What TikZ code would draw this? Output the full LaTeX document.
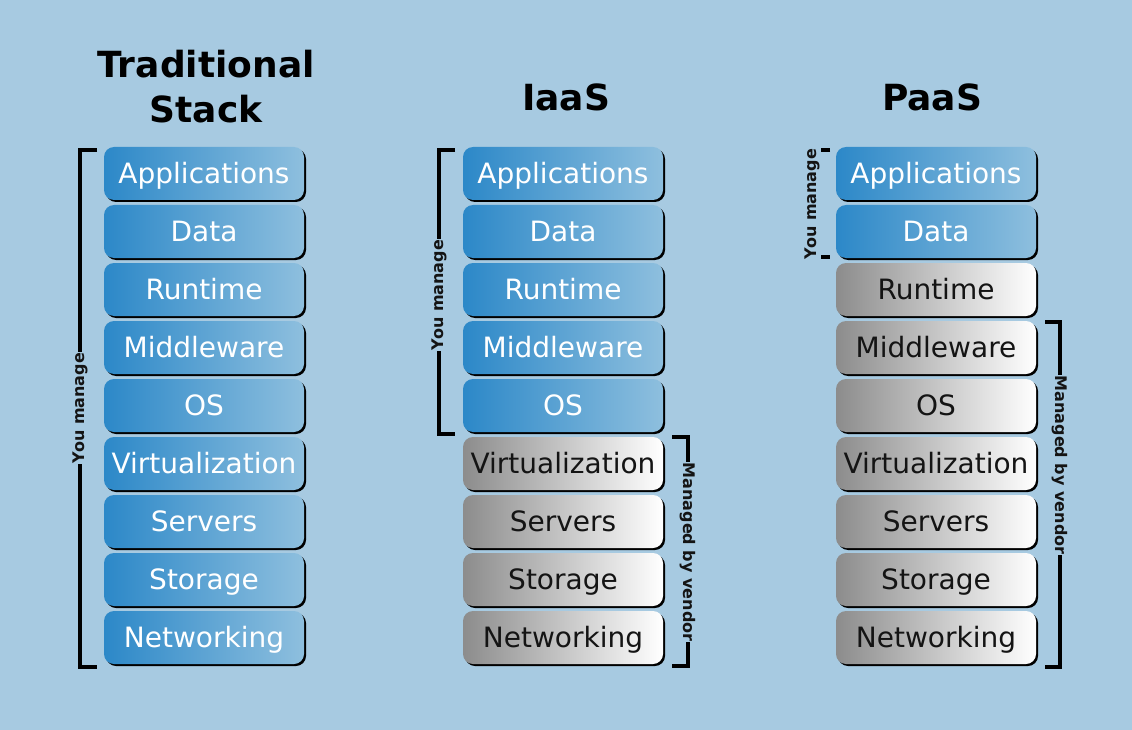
\documentclass[tikz,border=0pt]{standalone}
\usepackage{fontspec}
\setmainfont{DejaVu Sans}
\usetikzlibrary{shadows}
\definecolor{sky}{RGB}{167,202,225}
\definecolor{bluel}{RGB}{44,136,200}
\definecolor{bluer}{RGB}{142,191,222}
\definecolor{grayl}{RGB}{140,140,140}
\definecolor{ink}{RGB}{20,20,20}

\begin{document}
\begin{tikzpicture}[
      x = 1pt, y = -1pt,
      layer/.style = {
        rounded corners = 10pt, minimum width = 200pt, minimum height = 53pt,
        inner sep = 0pt, font = \fontsize{28}{32}\selectfont,
        text height = 20pt, text depth = 0pt,
        drop shadow = {shadow xshift = 2pt, shadow yshift = -2pt,
          fill = black, opacity = 1}},
      mine/.style = {layer, left color = bluel, right color = bluer, text = white},
      vendor/.style = {layer, left color = grayl, right color = white, text = ink},
      title/.style = {font = \fontsize{36}{45}\selectfont\bfseries, align = center},
      bracket/.style = {line width = 4pt, black},
      side/.style = {fill = sky, inner sep = 1pt, text = ink,
        font = \fontsize{16}{18}\selectfont\bfseries}
      ]
    \fill[sky] (0,0) rectangle (1132,730);
    \useasboundingbox (0,0) rectangle (1132,730);
    % titles
    \node[title] (tTitle) at (206,87) {Traditional\\Stack};
    \node[title] (iTitle) at (566,97) {IaaS};
    \node[title] (pTitle) at (932,97) {PaaS};
    % traditional stack
    \node[mine] (tApp) at (204,173.5) {Applications}; % 0
    \node[mine] (tData) at (204,231.5) {Data}; % 1
    \node[mine] (tRun) at (204,289.5) {Runtime}; % 2
    \node[mine] (tMid) at (204,347.5) {Middleware}; % 3
    \node[mine] (tOS) at (204,405.5) {OS}; % 4
    \node[mine] (tVirt) at (204,463.5) {Virtualization}; % 5
    \node[mine] (tServ) at (204,521.5) {Servers}; % 6
    \node[mine] (tStor) at (204,579.5) {Storage}; % 7
    \node[mine] (tNet) at (204,637.5) {Networking}; % 8
    % iaas
    \node[mine] (iApp) at (563,173.5) {Applications}; % 0
    \node[mine] (iData) at (563,231.5) {Data}; % 1
    \node[mine] (iRun) at (563,289.5) {Runtime}; % 2
    \node[mine] (iMid) at (563,347.5) {Middleware}; % 3
    \node[mine] (iOS) at (563,405.5) {OS}; % 4
    \node[vendor] (iVirt) at (563,463.5) {Virtualization}; % 5
    \node[vendor] (iServ) at (563,521.5) {Servers}; % 6
    \node[vendor] (iStor) at (563,579.5) {Storage}; % 7
    \node[vendor] (iNet) at (563,637.5) {Networking}; % 8
    % paas
    \node[mine] (pApp) at (936,173.5) {Applications}; % 0
    \node[mine] (pData) at (936,231.5) {Data}; % 1
    \node[vendor] (pRun) at (936,289.5) {Runtime}; % 2
    \node[vendor] (pMid) at (936,347.5) {Middleware}; % 3
    \node[vendor] (pOS) at (936,405.5) {OS}; % 4
    \node[vendor] (pVirt) at (936,463.5) {Virtualization}; % 5
    \node[vendor] (pServ) at (936,521.5) {Servers}; % 6
    \node[vendor] (pStor) at (936,579.5) {Storage}; % 7
    \node[vendor] (pNet) at (936,637.5) {Networking}; % 8
    % brackets
    \draw[bracket] (97,150) -- (80,150) -- (80,667) -- (97,667);
    \node[side, rotate = 90] (tYou) at (80,408) {You manage};
    \draw[bracket] (455,150) -- (439,150) -- (439,434) -- (455,434);
    \node[side, rotate = 90] (iYou) at (439,295) {You manage};
    \draw[bracket] (672,437) -- (688,437) -- (688,666) -- (672,666);
    \node[side, rotate = -90] (iVendor) at (688,552) {Managed by vendor};
    \draw[bracket] (830,150) -- (813,150) -- (813,257) -- (830,257);
    \node[side, rotate = 90] (pYou) at (812,204) {You manage};
    \draw[bracket] (1045,322) -- (1060,322) -- (1060,667) -- (1045,667);
    \node[side, rotate = -90] (pVendor) at (1060,465) {Managed by vendor};
  \end{tikzpicture}
\end{document}
